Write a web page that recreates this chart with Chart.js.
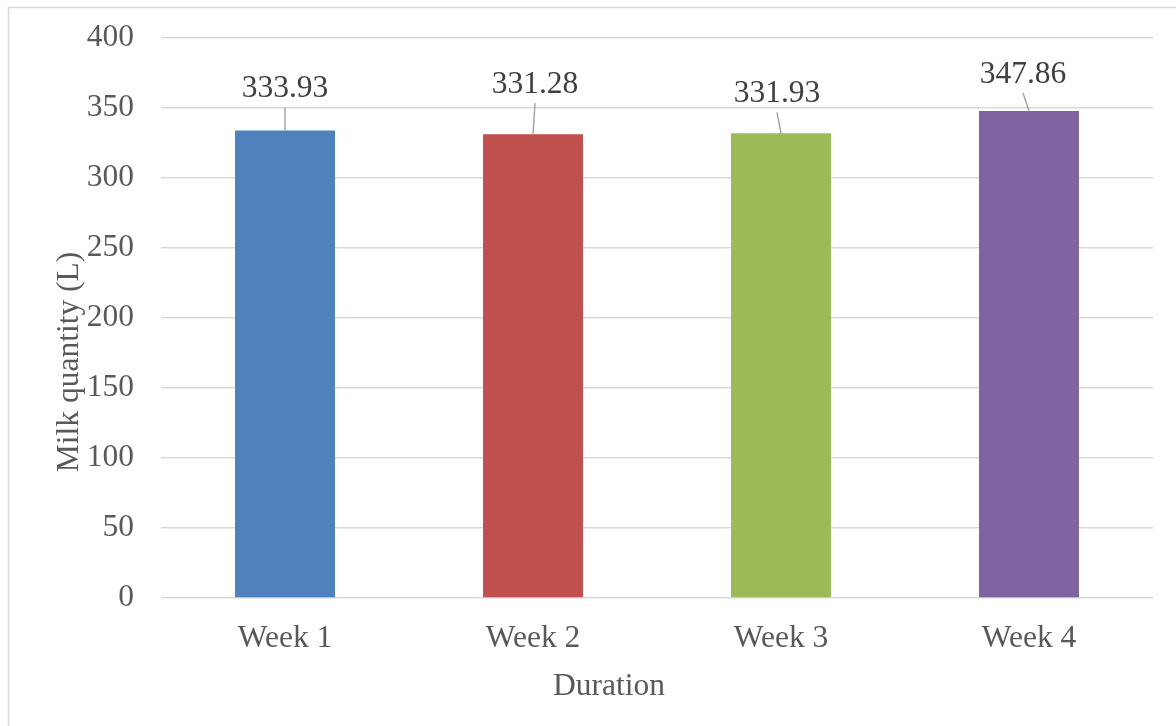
<!DOCTYPE html>
<html>
<head>
<meta charset="utf-8">
<script src="https://cdn.jsdelivr.net/npm/chart.js@4/dist/chart.umd.min.js"></script>
<style>
  html, body { margin: 0; padding: 0; background: #fff; }
  #wrap { width: 1176px; height: 726px; }
</style>
</head>
<body>
<div id="wrap"><canvas id="grafikSusu" width="1176" height="726"></canvas></div>
<script>
// data
const weeks = ['Week 1', 'Week 2', 'Week 3', 'Week 4'];
const milkQty = [333.93, 331.28, 331.93, 347.86];
const barColors = ['#4f81bd', '#c0504d', '#9bbb59', '#8064a2'];

// geser label data (px) seperti di gambar asli
const labelDx = [0, 2, -4, -6];
const labelDy = [-33, -41, -31, -28];

const fontSerif = '"Liberation Serif", "Times New Roman", serif';

const pluginHiasan = {
    id: 'hiasan',
    beforeDraw(chart) {
        const c = chart.ctx;
        c.save();
        c.fillStyle = '#fff';
        c.fillRect(0, 0, chart.width, chart.height);
        // bingkai (hanya sisi atas dan kiri yang terlihat)
        c.strokeStyle = '#d9d9d9';
        c.lineWidth = 1.5;
        c.beginPath();
        c.moveTo(8.5, chart.height);
        c.lineTo(8.5, 7.5);
        c.lineTo(chart.width, 7.5);
        c.stroke();
        c.restore();
    },
    afterDatasetsDraw(chart) {
        const c = chart.ctx;
        const meta = chart.getDatasetMeta(0);
        c.save();
        c.font = '31.5px ' + fontSerif;
        c.textAlign = 'center';
        c.textBaseline = 'alphabetic';
        meta.data.forEach((bar, i) => {
            const lx = bar.x + labelDx[i];
            const ly = bar.y + labelDy[i];
            // garis penunjuk
            c.strokeStyle = '#a6a6a6';
            c.lineWidth = 1.5;
            c.beginPath();
            c.moveTo(lx, ly + 10);
            c.lineTo(bar.x, bar.y);
            c.stroke();
            c.fillStyle = '#404040';
            c.fillText(milkQty[i].toFixed(2), lx, ly);
        });
        // judul sumbu x
        c.fillStyle = '#595959';
        c.textBaseline = 'middle';
        c.fillText('Duration', 609, 687);
        // judul sumbu y
        c.translate(78, 362);
        c.rotate(-Math.PI / 2);
        c.textBaseline = 'alphabetic';
        c.fillText('Milk quantity (L)', 0, 0);
        c.restore();
    }
};

const ctx = document.getElementById('grafikSusu').getContext('2d');
new Chart(ctx, {
    type: 'bar',
    data: {
        labels: weeks,
        datasets: [{
            label: 'Milk quantity (L)',
            data: milkQty,
            backgroundColor: barColors,
            categoryPercentage: 1,
            barPercentage: 0.403
        }]
    },
    options: {
        responsive: false,
        animation: false,
        devicePixelRatio: 1,
        layout: { padding: { top: 38, right: 23, bottom: 0, left: 0 } },
        plugins: {
            legend: { display: false },
            tooltip: { enabled: false }
        },
        scales: {
            x: {
                grid: { display: false, drawTicks: false },
                border: { display: false },
                ticks: {
                    color: '#595959',
                    padding: 22,
                    font: { family: fontSerif, size: 31.5 }
                },
                afterFit(scale) {
                    scale.height = 128;
                    scale.paddingLeft = 0;
                    scale.paddingRight = 0;
                }
            },
            y: {
                min: 0,
                max: 400,
                ticks: {
                    stepSize: 50,
                    color: '#595959',
                    padding: 27,
                    font: { family: fontSerif, size: 31.5 }
                },
                grid: { color: '#d9d9d9', lineWidth: 1.5, drawTicks: false },
                border: { display: false },
                afterFit(scale) {
                    scale.width = 161;
                    scale.paddingTop = 0;
                    scale.paddingBottom = 0;
                }
            }
        }
    },
    plugins: [pluginHiasan]
});
</script>
</body>
</html>
